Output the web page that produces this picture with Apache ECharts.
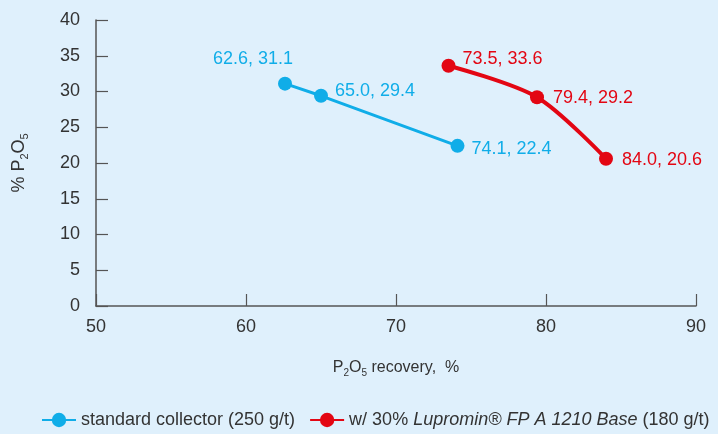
<!DOCTYPE html>
<html><head><meta charset="utf-8">
<script src="https://cdn.jsdelivr.net/npm/echarts@6/dist/echarts.min.js"></script>
<style>html,body{margin:0;padding:0;background:#dff0fc;}#c{width:718px;height:434px;}</style>
</head><body><div id="c"></div>
<script>
const seriesNames = ['standard collector (250 g/t)', 'w/ 30% Lupromin® FP A 1210 Base (180 g/t)'];
const standardRecovery = [62.6, 65.0, 74.1];
const standardGrade = [31.1, 29.4, 22.4];
const luprominRecovery = [73.5, 79.4, 84.0];
const luprominGrade = [33.6, 29.2, 20.6];
const xTicks = [50, 60, 70, 80, 90];
const yTicks = [0, 5, 10, 15, 20, 25, 30, 35, 40];

const BLUE = '#10ade8', RED = '#e30613';
const FONT = '"Liberation Sans", Arial, sans-serif';
const pairs = (xs, ys) => xs.map((x, i) => [x, ys[i]]);
const lbl = (v) => v[0].toFixed(1) + ', ' + v[1].toFixed(1);

const stdLabelCfg = [
  {position: 'top', offset: [-32, -4]},
  {position: 'right', offset: [2, -5]},
  {position: 'right', offset: [2, 3]}
];
const lupLabelCfg = [
  {position: 'right', offset: [2, -7]},
  {position: 'right', offset: [4, 1]},
  {position: 'right', offset: [4, 1]}
];

function mkData(xs, ys, cfg, color) {
  return pairs(xs, ys).map((p, i) => ({
    value: p,
    label: Object.assign({show: true, color: color, fontSize: 18, fontFamily: FONT,
      formatter: (o) => lbl(o.value)}, cfg[i])
  }));
}

const chart = echarts.init(document.getElementById('c'));
chart.setOption({
  backgroundColor: '#dff0fc',
  animation: false,
  grid: {left: 96, right: 22, top: 20, bottom: 128},
  xAxis: {
    type: 'value', min: xTicks[0], max: xTicks[xTicks.length - 1], interval: 10,
    axisLine: {lineStyle: {color: '#555', width: 1.5}},
    axisTick: {show: true, inside: true, length: 12, lineStyle: {color: '#555', width: 1.2}},
    axisLabel: {color: '#333', fontSize: 18, fontFamily: FONT, margin: 12},
    splitLine: {show: false},
    name: '{n|P}{s|2}{n|O}{s|5}{n| recovery,  %}',
    nameLocation: 'middle', nameGap: 52,
    nameTextStyle: {
      rich: {
        n: {fontSize: 16, color: '#333', fontFamily: FONT, lineHeight: 20},
        s: {fontSize: 10, color: '#333', fontFamily: FONT, verticalAlign: 'bottom', lineHeight: 12, padding: [8, 0, 0, 0]}
      }
    }
  },
  yAxis: {
    type: 'value', min: yTicks[0], max: yTicks[yTicks.length - 1], interval: 5,
    axisLine: {show: true, lineStyle: {color: '#555', width: 1.5}},
    axisTick: {show: true, inside: true, length: 12, lineStyle: {color: '#555', width: 1.2}},
    axisLabel: {color: '#333', fontSize: 18, fontFamily: FONT, margin: 16},
    splitLine: {show: false},
    name: '{n|% P}{s|2}{n|O}{s|5}',
    nameLocation: 'middle', nameGap: 66, nameRotate: 90,
    nameTextStyle: {
      rich: {
        n: {fontSize: 18, color: '#333', fontFamily: FONT, lineHeight: 22},
        s: {fontSize: 11, color: '#333', fontFamily: FONT, verticalAlign: 'bottom', lineHeight: 12, padding: [9, 0, 0, 0]}
      }
    }
  },
  legend: {
    top: 411, left: 41, itemWidth: 34, itemHeight: 18, itemGap: 14, padding: 0,
    textStyle: {
      fontSize: 18, fontFamily: FONT, color: '#333',
      rich: {
        n: {fontSize: 18, fontFamily: FONT, color: '#333'},
        i: {fontSize: 18, fontFamily: FONT, color: '#333', fontStyle: 'italic'}
      }
    },
    formatter: (name) => name === seriesNames[1]
      ? '{n|w/ 30% }{i|Lupromin® FP A 1210 Base}{n| (180 g/t)}'
      : '{n|' + name + '}',
    data: seriesNames
  },
  series: [
    {
      name: seriesNames[0], type: 'line', symbol: 'circle', symbolSize: 14,
      lineStyle: {color: BLUE, width: 3}, itemStyle: {color: BLUE},
      data: mkData(standardRecovery, standardGrade, stdLabelCfg, BLUE)
    },
    {
      name: seriesNames[1], type: 'line', symbol: 'circle', symbolSize: 14, smooth: 0.3,
      lineStyle: {color: RED, width: 4}, itemStyle: {color: RED},
      data: mkData(luprominRecovery, luprominGrade, lupLabelCfg, RED)
    }
  ]
});
</script></body></html>
